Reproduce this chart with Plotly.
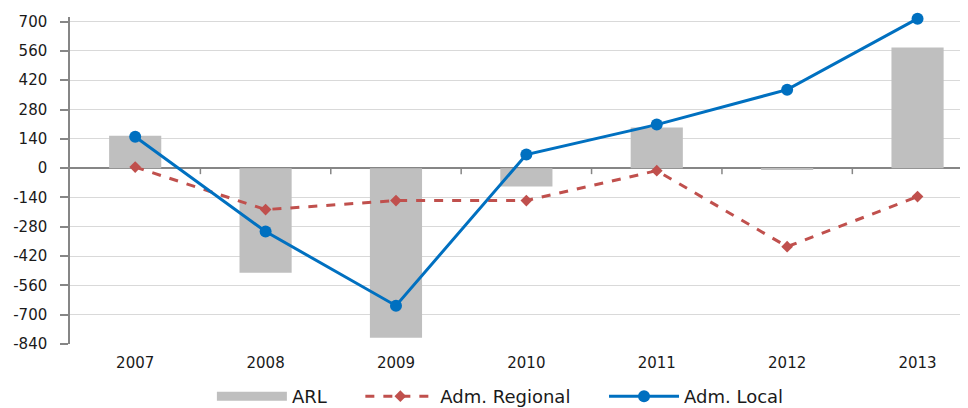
import plotly.graph_objects as go

years = ["2007", "2008", "2009", "2010", "2011", "2012", "2013"]
arl = [155, -500, -810, -88, 194, -5, 576]
adm_regional = [5, -198, -155, -155, -12, -375, -136]
adm_local = [150, -303, -657, 65, 208, 375, 714]
y_ticks = [700, 560, 420, 280, 140, 0, -140, -280, -420, -560, -700, -840]
y_tick_text = [str(v) for v in y_ticks]  # hyphen-minus as in the source

y_min, y_max = -840, 700
y_top = 722  # small headroom so the 2013 marker (above 700) is not hidden
px_per_unit = 322 / (y_max - y_min)
top_margin = 14 - (y_top - y_max) * px_per_unit

x_range = [-0.5, 6.387]
xs = list(range(len(years)))
FONT = "DejaVu Sans, Liberation Sans, Arial, sans-serif"
PAD = "\u00a0" * 5

fig = go.Figure()
fig.add_trace(go.Bar(x=xs, y=arl, name="ARL", showlegend=False,
                     marker=dict(color="#BFBFBF", line=dict(width=0)), width=0.4))
# legend swatch for ARL (wide grey bar as in source)
fig.add_trace(go.Scatter(x=[None], y=[None], name="ARL" + PAD, mode="lines",
                         line=dict(color="#BFBFBF", width=9)))
fig.add_trace(go.Scatter(x=xs, y=adm_regional, name="Adm. Regional" + PAD,
                         mode="lines+markers", cliponaxis=False,
                         line=dict(color="#C0504D", width=3, dash="dash"),
                         marker=dict(symbol="diamond", size=9, color="#C0504D")))
fig.add_trace(go.Scatter(x=xs, y=adm_local, name="Adm. Local",
                         mode="lines+markers", cliponaxis=False,
                         line=dict(color="#0070C0", width=3),
                         marker=dict(symbol="circle", size=12, color="#0070C0")))

# small category-boundary ticks on the zero line
shapes = [dict(type="line", xref="x", yref="y", ysizemode="pixel", yanchor=0,
               x0=i + 0.5, x1=i + 0.5, y0=0, y1=-6,
               line=dict(color="#868686", width=1.5), layer="above")
          for i in range(len(years) - 1)]

fig.update_layout(
    width=960, height=400,
    margin=dict(l=62, r=0, t=top_margin, b=64, autoexpand=False),
    paper_bgcolor="white", plot_bgcolor="white",
    font=dict(family=FONT, size=15, color="#1a1a1a"),
    showlegend=True,
    shapes=shapes,
    legend=dict(orientation="h", x=0.158, xanchor="left", y=-0.104, yanchor="top",
                font=dict(family=FONT, size=18, color="#1a1a1a"), traceorder="normal",
                itemwidth=70),
    xaxis=dict(range=x_range, tickmode="array", tickvals=xs,
               ticktext=years, showgrid=False, zeroline=False, showline=False,
               ticks="", ticklabelstandoff=8, tickfont=dict(size=15)),
    yaxis=dict(range=[y_min, y_top], tickmode="array", tickvals=y_ticks,
               ticktext=y_tick_text,
               showgrid=True, gridcolor="#D9D9D9", gridwidth=1,
               zeroline=True, zerolinecolor="#868686", zerolinewidth=1.5,
               showline=True, linecolor="#868686", linewidth=1.5,
               ticks="outside", ticklen=8, tickcolor="#868686", tickwidth=1.5,
               ticklabelstandoff=10, tickfont=dict(size=15)),
)

fig.write_html("out.html")
